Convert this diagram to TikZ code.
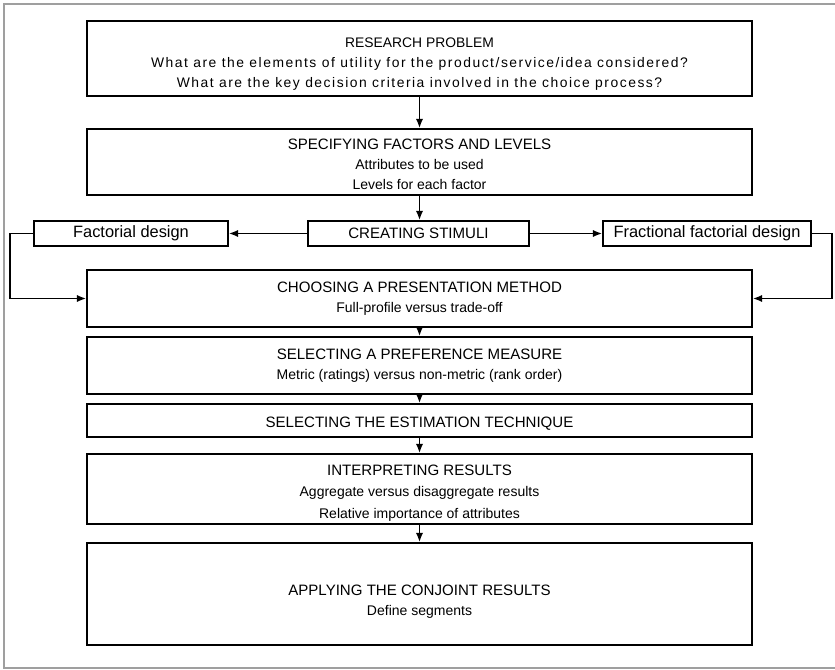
\documentclass[tikz,border=0pt]{standalone}
\usepackage{fontspec}
\setmainfont{Liberation Sans}
\newfontfamily\widefont{Liberation Sans}[LetterSpace=11]
\usetikzlibrary{arrows.meta}

\newcommand{\boxfont}{\fontsize{10.5}{15}\selectfont}
\newcommand{\headfont}{\fontsize{11.3}{15}\selectfont}
\newcommand{\topgap}[1]{\rule{0pt}{#1}}

\tikzset{
	stage/.style={draw, line width=1.3pt, align=center, inner sep=0pt,
		minimum width=665*0.75pt, font=\boxfont},
	design/.style={draw, line width=1.3pt, inner sep=0pt,
		minimum height=25*0.75pt, font=\boxfont},
	flow/.style={line width=1.2pt, -{Latex[length=7pt,width=5.5pt]}},
}

\begin{document}
\begin{tikzpicture}[x=0.75pt,y=-0.75pt]
	\useasboundingbox (0,0) rectangle (835,670);
	\draw[gray!75, line width=1.5pt] (840,4) -- (4,4) -- (4,668) -- (840,668);

	\node[stage, minimum height=75*0.75pt] (res) at (419.5,58.5)
	{{\fontsize{10.4}{15}\selectfont\topgap{15pt}RESEARCH PROBLEM}\\
	 {\widefont\fontsize{10.4}{15}\selectfont What are the elements of utility for the product/service/idea considered?}\\
	 {\widefont\fontsize{10.4}{15}\selectfont What are the key decision criteria involved in the choice process?}};
	\node[stage, minimum height=66*0.75pt] (spec) at (419.5,162)
	{{\headfont\topgap{11pt}SPECIFYING FACTORS AND LEVELS}\\ Attributes to be used\\ Levels for each factor};

	\node[design, minimum width=221*0.75pt, font=\headfont] (stim) at (418.5,233.5) {CREATING STIMULI};
	\node[design, minimum width=194*0.75pt, font=\fontsize{12.3}{15}\selectfont] (fact) at (131,233.5) {Factorial design};
	\node[design, minimum width=208*0.75pt, font=\fontsize{12.3}{15}\selectfont] (frac) at (707,233.5) {Fractional factorial design};

	\node[stage, minimum height=57*0.75pt] (pres) at (419.5,298.5)
	{{\headfont CHOOSING A PRESENTATION METHOD}\\ Full-profile versus trade-off};
	\node[stage, minimum height=57*0.75pt] (pref) at (419.5,365.5)
	{{\headfont SELECTING A PREFERENCE MEASURE}\\ Metric (ratings) versus non-metric (rank order)};
	\node[stage, minimum height=33*0.75pt, font=\headfont] (est) at (419.5,420.5)
	{\topgap{12.5pt}SELECTING THE ESTIMATION TECHNIQUE};
	\node[stage, minimum height=70*0.75pt, font=\fontsize{10.5}{16}\selectfont] (interp) at (419.5,489)
	{{\headfont\topgap{14pt}INTERPRETING RESULTS}\\ Aggregate versus disaggregate results\\ Relative importance of attributes};
	\node[stage, minimum height=102*0.75pt] (apply) at (419.5,594)
	{{\headfont\topgap{20pt}APPLYING THE CONJOINT RESULTS}\\ Define segments};

	% main column
	\draw[flow] (res) -- (spec);
	\draw[flow] (spec.south) -- (spec.south |- stim.north);
	\draw[flow] (stim) -- (fact);
	\draw[flow] (stim) -- (frac);
	\draw[flow] (fact.west) -- ++(-23,0) |- (pres.west);
	\draw[flow] (frac.east) -- ++(20,0) |- (pres.east);
	\draw[flow] (pres) -- (pref);
	\draw[flow] (pref) -- (est);
	\draw[flow] (est) -- (interp);
	\draw[flow] (interp) -- (apply);
\end{tikzpicture}
\end{document}
